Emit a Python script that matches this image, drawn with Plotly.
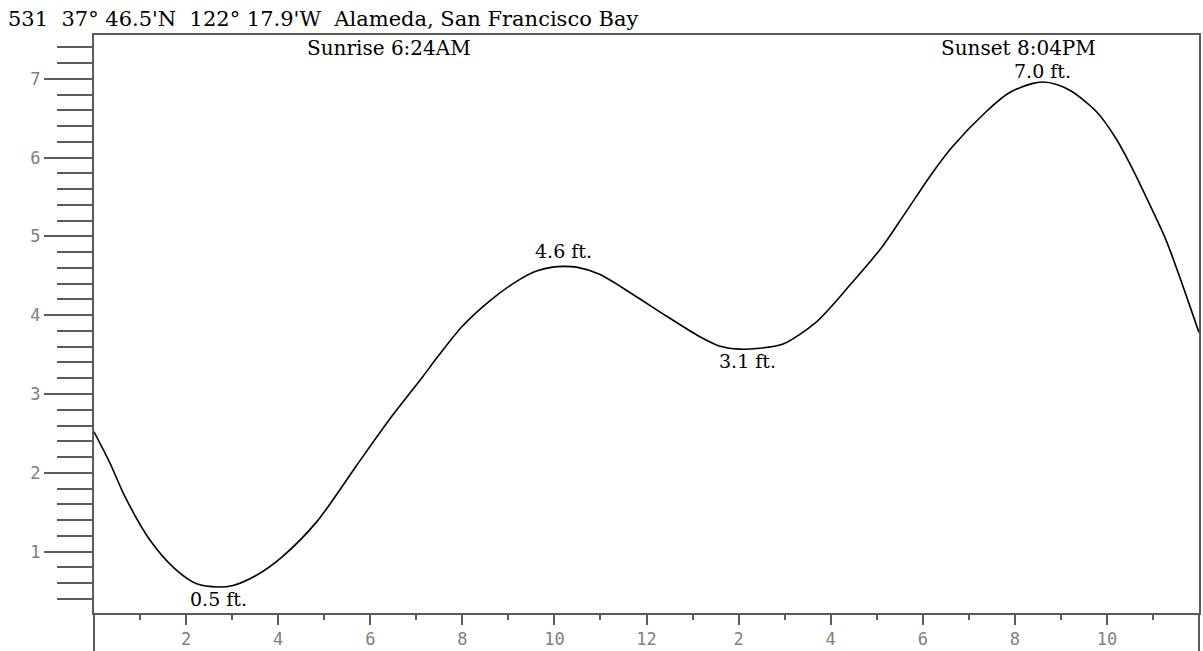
import plotly.graph_objects as go

# ---- data ----
hours = [0.0, 0.35, 0.67, 1.21, 1.76, 2.23, 2.7, 3.02, 3.53, 4.10, 4.84, 5.70, 6.42,
         7.14, 7.46, 8.0, 8.59, 9.18, 9.61, 9.96, 10.2, 10.48, 10.98, 11.69, 12.43, 13.15,
         13.58, 14.01, 14.45, 14.95, 15.68, 16.40, 17.12, 17.6, 18.2, 18.63, 19.37,
         19.87, 20.37, 20.6, 20.91, 21.24, 21.78, 22.19, 22.52, 22.91, 23.28, 23.62, 24.0]
tide_ft = [2.52, 2.12, 1.70, 1.15, 0.78, 0.59, 0.55, 0.57, 0.70, 0.94, 1.38, 2.09, 2.68,
           3.22, 3.47, 3.86, 4.18, 4.43, 4.56, 4.61, 4.62, 4.61, 4.52, 4.27, 3.99, 3.73,
           3.61, 3.57, 3.58, 3.63, 3.91, 4.37, 4.87, 5.28, 5.80, 6.13, 6.58,
           6.82, 6.94, 6.96, 6.93, 6.84, 6.58, 6.25, 5.90, 5.43, 4.96, 4.42, 3.78]

event_hours = [2.7, 10.2, 14.2, 20.6]
event_levels = [0.55, 4.62, 3.57, 6.96]
event_labels = ["0.5 ft.", "4.6 ft.", "3.1 ft.", "7.0 ft."]
event_is_high = [False, True, False, True]

sun_hours = [6.4, 20.07]
sun_labels = ["Sunrise 6:24AM", "Sunset 8:04PM"]

x_tick_vals = [2, 4, 6, 8, 10, 12, 14, 16, 18, 20, 22]
x_tick_text = ["2", "4", "6", "8", "10", "12", "2", "4", "6", "8", "10"]

title_text = "531  37° 46.5'N  122° 17.9'W  Alameda, San Francisco Bay"

AX = "#5a5a5a"
SERIF = "DejaVu Serif"

fig = go.Figure()
fig.add_trace(go.Scatter(
    x=hours, y=tide_ft, mode="lines",
    line=dict(color="black", width=1.6, shape="spline", smoothing=0.8),
    hoverinfo="skip", showlegend=False))

annotations = []
for h, lv, txt, hi in zip(event_hours, event_levels, event_labels, event_is_high):
    annotations.append(dict(
        x=h, y=lv, xref="x", yref="y", text=txt, showarrow=False,
        yanchor="middle", yshift=(11 if lv > 6 else 15) if hi else -12,
        font=dict(family=SERIF, size=19, color="black")))
for h, txt in zip(sun_hours, sun_labels):
    annotations.append(dict(
        x=h, y=1, xref="x", yref="paper", text=txt, showarrow=False,
        yanchor="top", yshift=1,
        font=dict(family=SERIF, size=20, color="black")))

fig.update_layout(
    width=1203, height=651,
    margin=dict(l=94, r=2, t=35, b=36),
    paper_bgcolor="white", plot_bgcolor="white",
    title=dict(text=title_text, xref="container", yref="container",
               x=8 / 1203, xanchor="left", y=1 - 19 / 651, yanchor="middle",
               font=dict(family=SERIF, size=21, color="black")),
    annotations=annotations,
    shapes=[
        dict(type="line", xref="paper", yref="paper", x0=0, x1=0, y0=-0.07, y1=0,
             line=dict(color=AX, width=2)),
        dict(type="line", xref="paper", yref="paper", x0=1, x1=1, y0=-0.07, y1=0,
             line=dict(color=AX, width=2)),
    ],
)

fig.update_xaxes(
    range=[0, 24], showgrid=False, zeroline=False,
    showline=True, mirror=True, linecolor=AX, linewidth=2,
    tickmode="array", tickvals=x_tick_vals, ticktext=x_tick_text,
    ticks="outside", ticklen=10, tickwidth=1.5, tickcolor=AX,
    tickfont=dict(family="DejaVu Sans Mono", size=17, color="#808080"),
    minor=dict(tickmode="linear", tick0=1, dtick=2, ticks="outside",
               ticklen=5, tickwidth=1.5, tickcolor=AX, showgrid=False),
)
fig.update_yaxes(
    range=[0.22, 7.557], showgrid=False, zeroline=False,
    showline=True, mirror=True, linecolor=AX, linewidth=2,
    tickmode="linear", tick0=0, dtick=1,
    ticks="outside", ticklen=48, tickwidth=1.5, tickcolor=AX,
    tickfont=dict(family="DejaVu Sans Mono", size=17, color="#808080"),
    minor=dict(tickmode="linear", tick0=0, dtick=0.2, ticks="outside",
               ticklen=35, tickwidth=1.5, tickcolor=AX, showgrid=False),
)

fig.write_html("out.html", config={"displayModeBar": False},
               post_script="document.body.style.margin='0';document.body.style.overflow='hidden';")
